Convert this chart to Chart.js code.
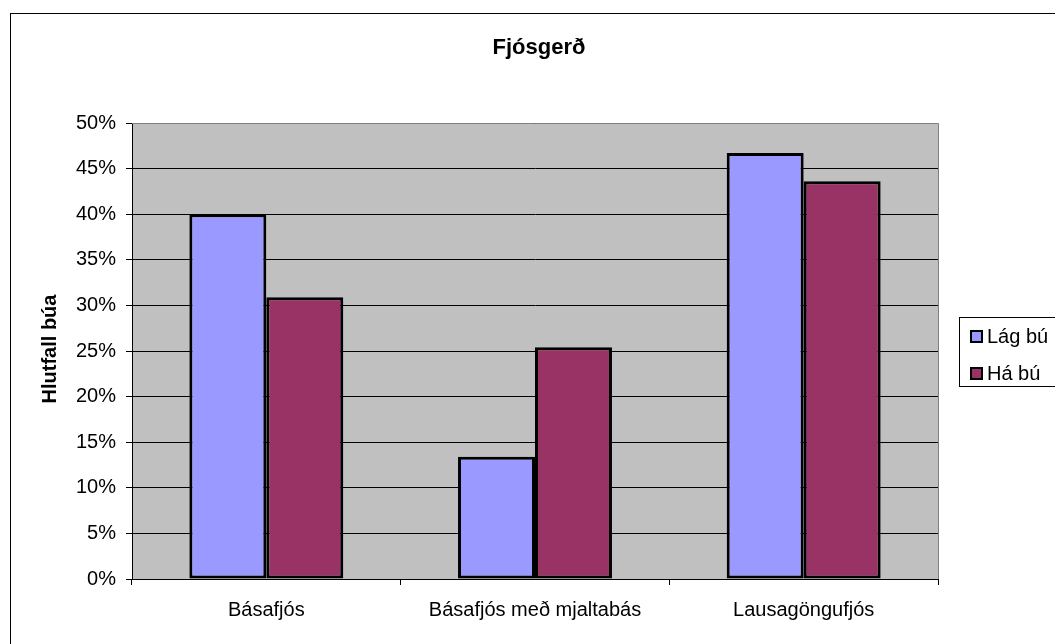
<!DOCTYPE html>
<html>
<head>
<meta charset="utf-8">
<script src="https://cdn.jsdelivr.net/npm/chart.js@4/dist/chart.umd.min.js"></script>
<style>
  html, body { margin: 0; padding: 0; background: #ffffff; }
  #wrap { width: 1055px; height: 644px; }
</style>
</head>
<body>
<div id="wrap"><canvas id="grafico" width="1055" height="644"></canvas></div>
<script>
const categorias = ["Básafjós", "Básafjós með mjaltabás", "Lausagöngufjós"];
const lagBu = [40.0, 13.4, 46.7];
const haBu = [30.9, 25.4, 43.6];
const titulo = "Fjósgerð";
const tituloY = "Hlutfall búa";
const nombresSeries = ["Lág bú", "Há bú"];
const coloresSeries = ["#9999ff", "#993366"];

const fuente = "'Liberation Sans', Arial, sans-serif";

// fondo gris, bordes, titulos y leyenda
const decoracion = {
  id: "decoracion",
  beforeDraw(chart) {
    const { ctx, chartArea: a } = chart;
    ctx.save();
    ctx.fillStyle = "#ffffff";
    ctx.fillRect(0, 0, chart.width, chart.height);
    ctx.strokeStyle = "#000000";
    ctx.lineWidth = 1;
    ctx.strokeRect(10.5, 13.5, 1200, 800);
    ctx.fillStyle = "#c0c0c0";
    ctx.fillRect(a.left, a.top, a.right - a.left, a.bottom - a.top);
    ctx.restore();
  },
  afterDraw(chart) {
    const { ctx, chartArea: a } = chart;
    ctx.save();
    ctx.strokeStyle = "#808080";
    ctx.lineWidth = 1;
    ctx.beginPath();
    ctx.moveTo(a.left, a.top + 0.5);
    ctx.lineTo(a.right + 0.5, a.top + 0.5);
    ctx.lineTo(a.right + 0.5, a.bottom);
    ctx.stroke();

    ctx.fillStyle = "#000000";
    ctx.textAlign = "center";
    ctx.textBaseline = "middle";
    ctx.font = "bold 22px " + fuente;
    ctx.fillText(titulo, 539, 48);

    ctx.save();
    ctx.translate(50, 349);
    ctx.rotate(-Math.PI / 2);
    ctx.font = "bold 20px " + fuente;
    ctx.fillText(tituloY, 0, 0);
    ctx.restore();

    // leyenda
    ctx.strokeStyle = "#000000";
    ctx.strokeRect(959.5, 317.5, 300, 69);
    ctx.textAlign = "left";
    ctx.font = "20px " + fuente;
    const ys = [336, 373];
    nombresSeries.forEach((nombre, i) => {
      ctx.fillStyle = coloresSeries[i];
      ctx.fillRect(971, ys[i] - 5, 11, 11);
      ctx.lineWidth = 2;
      ctx.strokeRect(971, ys[i] - 5, 11, 11);
      ctx.fillStyle = "#000000";
      ctx.fillText(nombre, 987, ys[i] + 1);
    });
    ctx.restore();
  }
};

new Chart(document.getElementById("grafico"), {
  type: "bar",
  data: {
    labels: categorias,
    datasets: [
      {
        label: nombresSeries[0],
        data: lagBu,
        backgroundColor: coloresSeries[0],
        borderColor: "#000000",
        borderWidth: 3,
        borderSkipped: false
      },
      {
        label: nombresSeries[1],
        data: haBu,
        backgroundColor: coloresSeries[1],
        borderColor: "#000000",
        borderWidth: 3,
        borderSkipped: false
      }
    ]
  },
  options: {
    responsive: false,
    animation: false,
    devicePixelRatio: 1,
    layout: { padding: { top: 123, right: 117, bottom: 0, left: 0 } },
    datasets: {
      bar: { categoryPercentage: 0.573, barPercentage: 1 }
    },
    plugins: {
      legend: { display: false },
      title: { display: false },
      tooltip: { enabled: false }
    },
    scales: {
      x: {
        afterFit(scale) { scale.height = 65; },
        grid: {
          offset: true,
          drawOnChartArea: false,
          drawTicks: true,
          tickLength: 6,
          color: "#000000"
        },
        border: { color: "#000000", width: 1 },
        ticks: {
          color: "#000000",
          font: { family: fuente, size: 20 },
          padding: 13,
          maxRotation: 0
        }
      },
      y: {
        min: 0,
        max: 50,
        afterFit(scale) { scale.width = 132; },
        grid: {
          color: "#000000",
          drawTicks: true,
          tickLength: 6
        },
        border: { color: "#000000", width: 1 },
        ticks: {
          stepSize: 5,
          color: "#000000",
          font: { family: fuente, size: 20 },
          padding: 10,
          callback: (v) => v + "%"
        }
      }
    }
  },
  plugins: [decoracion]
});
</script>
</body>
</html>
